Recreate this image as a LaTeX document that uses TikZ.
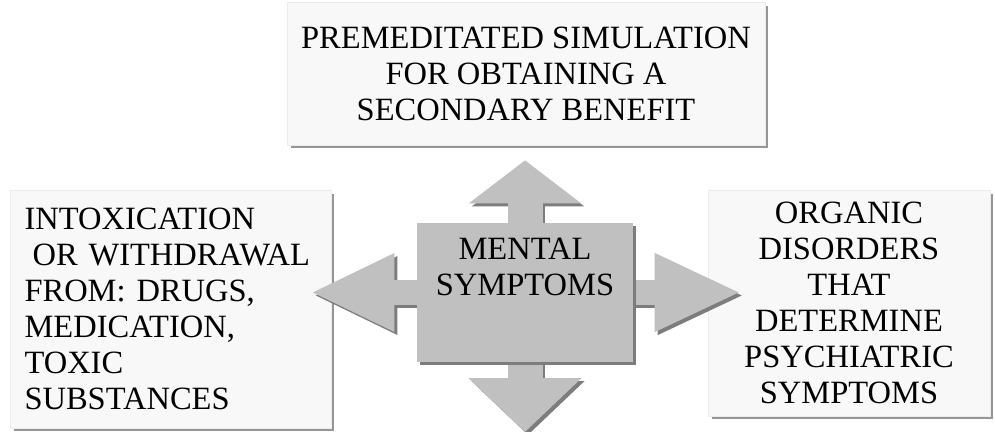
\documentclass[tikz,border=0pt]{standalone}
\usepackage{fontspec}
\setmainfont{Liberation Serif}
\usetikzlibrary{arrows.meta,positioning,shadows}
\definecolor{boxfill}{RGB}{248,248,248}
\definecolor{boxshade}{RGB}{150,150,150}
\definecolor{crossfill}{RGB}{192,192,192}
\definecolor{crossshade}{RGB}{125,125,125}
\pgfdeclarelayer{front}
\pgfsetlayers{main,front}

\begin{document}
\begin{tikzpicture}[x=0.02cm,y=-0.02cm,
      box/.style={fill=boxfill,draw=gray!15,inner sep=0pt,
        font=\fontsize{18.5}{20.5}\selectfont,
        general shadow={fill=boxshade,shadow xshift=0.07cm,shadow yshift=-0.07cm}},
      hub/.style={fill=crossfill,minimum width=4.32cm,minimum height=2.78cm,
        general shadow={fill=crossshade,shadow xshift=0.06cm,shadow yshift=-0.06cm}},
      vert/.style={line width=0.7cm,crossfill},
      horz/.style={line width=0.5cm,crossfill},
      dropped/.style={crossshade,transform canvas={shift={(0.06cm,-0.06cm)}}}]
    \useasboundingbox (0,0) rectangle (995,432);
    % outer boxes
    \node[box,minimum width=9.56cm,minimum height=2.86cm,align=center] (goal) at (526,73.5)
      {PREMEDITATED SIMULATION\\FOR OBTAINING A\\SECONDARY BENEFIT};
    \node[box,minimum width=6.42cm,minimum height=4.76cm,text width=5.84cm,align=left] (drugs) at (170.5,309)
      {INTOXICATION\\\hspace*{0.25em}OR WITHDRAWAL\\FROM: DRUGS,\\MEDICATION,\\TOXIC\\SUBSTANCES};
    \node[box,minimum width=5.64cm,minimum height=4.52cm,text width=5.64cm,align=center] (organic) at (849,303)
      {ORGANIC\\DISORDERS\\THAT\\DETERMINE\\PSYCHIATRIC\\SYMPTOMS};
    % centre
    \begin{pgfonlayer}{front}
      \node[hub,label={[align=center,font=\fontsize{18.5}{20.5}\selectfont,yshift=0.52cm]center:MENTAL\\SYMPTOMS}]
        (mental) at (525,292.5) {};
    \end{pgfonlayer}
    \coordinate (low) at (525,432);
    % arrows
    \draw[vert,dropped,shorten >=0.3cm,-{Triangle[width=2.2cm,length=0.86cm]}] (mental.north) -- (mental.north |- goal.south);
    \draw[vert,dropped,-{Triangle[width=2.2cm,length=1.08cm]}] (mental.south) -- (low);
    \draw[horz,dropped,shorten >=-0.42cm,-{Triangle[width=1.44cm,length=1.68cm]}] (mental.west) -- (mental.west -| drugs.east);
    \draw[horz,dropped,shorten >=-0.68cm,-{Triangle[width=1.44cm,length=1.74cm]}] (mental.east) -- (mental.east -| organic.west);
    \draw[vert,shorten >=0.3cm,-{Triangle[width=2.2cm,length=0.86cm]}] (mental.north) -- (mental.north |- goal.south);
    \draw[vert,-{Triangle[width=2.2cm,length=1.08cm]}] (mental.south) -- (low);
    \draw[horz,shorten >=-0.42cm,-{Triangle[width=1.44cm,length=1.68cm]}] (mental.west) -- (mental.west -| drugs.east);
    \draw[horz,shorten >=-0.68cm,-{Triangle[width=1.44cm,length=1.74cm]}] (mental.east) -- (mental.east -| organic.west);
  \end{tikzpicture}
\end{document}
